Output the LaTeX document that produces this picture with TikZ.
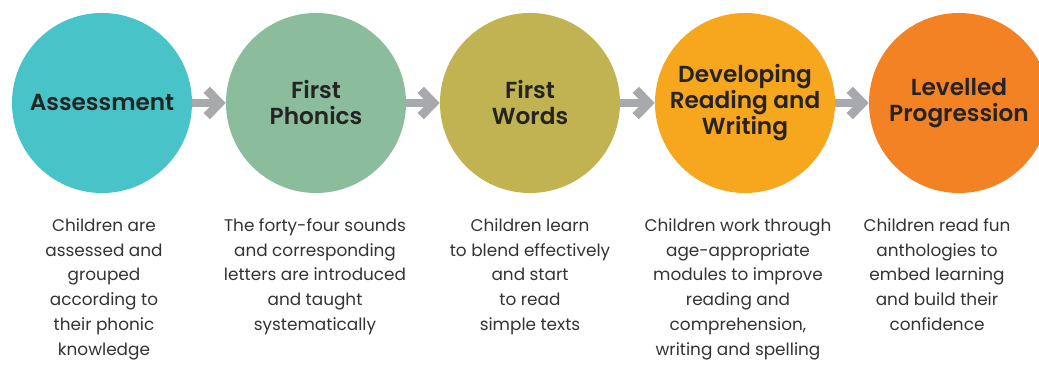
\documentclass[tikz,border=0pt]{standalone}
\usepackage{fontspec}
\setmainfont{Poppins}[BoldFont={Poppins SemiBold}]
\usepackage{tikz}
\usetikzlibrary{positioning,arrows.meta}
\definecolor{azul}{HTML}{48C3C7}
\definecolor{verde}{HTML}{8BBD9D}
\definecolor{oliva}{HTML}{C1B351}
\definecolor{amarelo}{HTML}{F6A71E}
\definecolor{laranja}{HTML}{F28224}
\definecolor{cinza}{HTML}{A7A9AC}
\definecolor{titulo}{HTML}{262324}
\definecolor{corpo}{HTML}{333333}

\begin{document}
\begin{tikzpicture}[x=0.025cm,y=-0.025cm,
  etapa/.style={circle,minimum size=4.5cm,inner sep=0pt,align=center,
    font=\fontsize{16.5}{18.5}\selectfont\bfseries,text=titulo},
  texto/.style={anchor=north,align=center,inner sep=0pt,
    font=\fontsize{12}{17.7}\selectfont,text=corpo},
  seta/.style={draw=cinza,line width=0.22cm,
    -{Straight Barb[length=0.32cm,width=0.66cm]}}]
\useasboundingbox (0,0) rectangle (1039,365);

% Etapas
\node[etapa,fill=azul] (aval) at (102,103) {Assessment};
\node[etapa,fill=verde] (fon) at (316,103) {First\\Phonics};
\node[etapa,fill=oliva] (pal) at (530,103) {First\\Words};
\node[etapa,fill=amarelo] (leit) at (745,103) {Developing\\Reading and\\Writing};
\node[etapa,fill=laranja] (prog) at (959,103) {Levelled\\Progression};

% Setas
\draw[seta] (aval) -- (fon);
\draw[seta] (fon) -- (pal);
\draw[seta] (pal) -- (leit);
\draw[seta] (leit) -- (prog);

% Textos
\node[texto] (taval) at (104,218) {Children are\\assessed and\\grouped\\according to\\their phonic\\knowledge};
\node[texto] (tfon) at (315,218) {The forty-four sounds\\and corresponding\\letters are introduced\\and taught\\systematically};
\node[texto] (tpal) at (530,218) {Children learn\\to blend effectively\\and start\\to read\\simple texts};
\node[texto] (tleit) at (738,218) {Children work through\\age-appropriate\\modules to improve\\reading and\\comprehension,\\writing and spelling};
\node[texto] (tprog) at (937,218) {Children read fun\\anthologies to\\embed learning\\and build their\\confidence};
\end{tikzpicture}
\end{document}
